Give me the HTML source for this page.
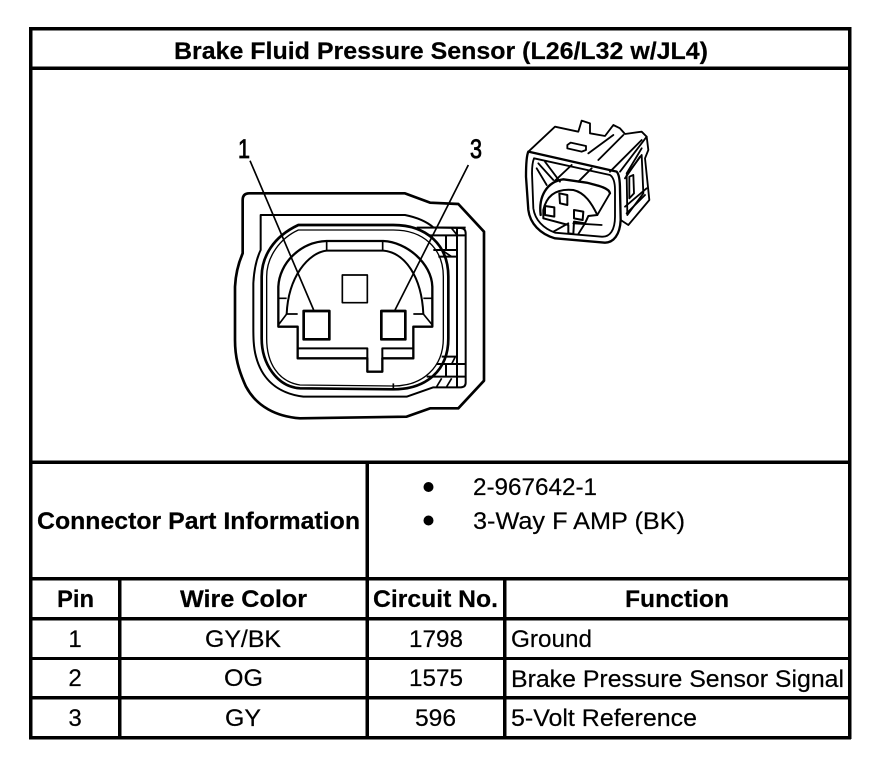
<!DOCTYPE html>
<html><head><meta charset="utf-8"><title>Brake Fluid Pressure Sensor</title>
<style>
html,body{margin:0;padding:0;background:#fff}
svg{display:block}
text{font-family:"Liberation Sans",Arial,sans-serif;font-size:24px;fill:#000;stroke:#000;stroke-width:.2px}
.b{font-weight:bold}
</style></head><body>
<svg width="896" height="772" viewBox="0 0 896 772" xmlns="http://www.w3.org/2000/svg">
<rect width="896" height="772" fill="#fff"/>
<!-- table lines -->
<g fill="#000">
<rect x="29" y="27" width="822" height="3.5"/>
<rect x="29" y="736" width="822" height="3.5"/>
<rect x="29" y="27" width="3.5" height="712"/>
<rect x="848" y="27" width="3.5" height="712"/>
<rect x="29" y="66.5" width="822" height="3.5"/>
<rect x="29" y="460.5" width="822" height="3.5"/>
<rect x="29" y="577" width="822" height="3.5"/>
<rect x="29" y="617" width="822" height="3.5"/>
<rect x="29" y="657" width="822" height="3"/>
<rect x="29" y="696" width="822" height="3.5"/>
<rect x="118" y="577" width="3.5" height="160"/>
<rect x="365.5" y="460.5" width="3.5" height="276"/>
<rect x="503" y="577" width="3.5" height="160"/>
<circle cx="428.5" cy="487" r="5"/>
<circle cx="428.5" cy="520.5" r="5"/>
</g>
<!-- text -->
<text class="b" x="174" y="59" textLength="534" lengthAdjust="spacingAndGlyphs">Brake Fluid Pressure Sensor (L26/L32 w/JL4)</text>
<text class="b" x="37" y="529" textLength="323" lengthAdjust="spacingAndGlyphs">Connector Part Information</text>
<text x="473" y="495" textLength="124" lengthAdjust="spacingAndGlyphs">2-967642-1</text>
<text x="473" y="529" textLength="212" lengthAdjust="spacingAndGlyphs">3-Way F AMP (BK)</text>
<text class="b" x="57" y="607" textLength="37" lengthAdjust="spacingAndGlyphs">Pin</text>
<text class="b" x="180" y="607" textLength="127" lengthAdjust="spacingAndGlyphs">Wire Color</text>
<text class="b" x="373" y="607" textLength="125" lengthAdjust="spacingAndGlyphs">Circuit No.</text>
<text class="b" x="625" y="607" textLength="104" lengthAdjust="spacingAndGlyphs">Function</text>
<text x="75" y="647" text-anchor="middle">1</text>
<text x="75" y="686" text-anchor="middle">2</text>
<text x="75" y="726" text-anchor="middle">3</text>
<text x="205" y="647" textLength="76" lengthAdjust="spacingAndGlyphs">GY/BK</text>
<text x="224" y="686" textLength="39" lengthAdjust="spacingAndGlyphs">OG</text>
<text x="225" y="726" textLength="36" lengthAdjust="spacingAndGlyphs">GY</text>
<text x="409" y="647" textLength="54" lengthAdjust="spacingAndGlyphs">1798</text>
<text x="409" y="686" textLength="54" lengthAdjust="spacingAndGlyphs">1575</text>
<text x="415" y="726" textLength="41" lengthAdjust="spacingAndGlyphs">596</text>
<text x="511" y="647" textLength="81" lengthAdjust="spacingAndGlyphs">Ground</text>
<text x="511" y="687" textLength="333" lengthAdjust="spacingAndGlyphs">Brake Pressure Sensor Signal</text>
<text x="511" y="726" textLength="186" lengthAdjust="spacingAndGlyphs">5-Volt Reference</text>
<!-- main connector -->
<g transform="translate(220,130) scale(0.33333)" fill="none" stroke="#000" stroke-linejoin="round">
<path stroke-width="8" d="M68,370 L68,210 Q68,190 88,190 L555,190 L630,218 L715,222 L792,305 L792,752 L715,835 L630,835 L560,860 L240,865 C170,860 110,830 78,770 C55,720 45,680 45,630 L45,470 C47,430 55,400 68,370Z"/>
<path stroke-width="6" d="M122,360 L122,255 L555,255 C590,262 620,275 640,292 L722,294 Q737,295 737,310 L737,758 Q737,772 722,772 L640,772 L560,800 L250,800 C170,790 125,745 108,680 C100,650 100,620 100,590 L100,460 C102,420 110,385 122,360Z"/>
<path stroke-width="8" d="M235,285 L520,285 C620,285 685,345 685,440 L685,625 C685,720 620,778 520,778 L240,775 C170,770 125,700 125,625 L125,440 C125,380 160,320 235,285Z" />
<path stroke-width="4" d="M235,300 L520,300 C610,300 670,355 670,440 L670,625 C670,710 610,768 520,768 L240,765 C175,755 140,700 140,625 L140,440 C140,380 180,325 235,300Z"/>
<!-- plug -->
<path stroke-width="7" d="M175,590 L175,470 C178,400 240,336 320,333 L490,333 C560,336 635,400 637,470 L637,590 L580,590 L580,685 L487,685 L487,725 L442,725 L442,685 L233,685 L233,590 Z"/>
<path stroke-width="6" d="M200,552 C205,440 265,368 320,362 L490,362 C555,368 605,440 610,552"/>
<path stroke-width="5" d="M320,333V362M488,333V362M175,505H200M610,505H637M175,585L200,552H233M637,585L610,552H580"/>
<path stroke-width="6" d="M233,655H442V685M487,685V655H580"/>
<rect x="251" y="543" width="77" height="85" stroke-width="8"/>
<rect x="484" y="543" width="72" height="85" stroke-width="8"/>
<rect x="367" y="435" width="75" height="83" stroke-width="5"/>
<!-- side grid -->
<path stroke-width="6" d="M590,293H737M625,316H737M640,360H711M655,380H711M665,680H711M650,702H737M620,740H737M678,316V360M711,293V770M678,702V740"/>
<path stroke-width="5" d="M695,295L712,316M668,362L695,380M705,682L695,702M665,745L650,770M695,745L680,770M520,760V778"/>
<!-- leaders -->
<path stroke-width="5" d="M90,92L281,540M745,105L525,540"/>
</g>
<g>
<text transform="translate(238,158) scale(0.8,1)" style="font-size:27px;stroke-width:.8px">1</text>
<text transform="translate(470,158) scale(0.8,1)" style="font-size:27px;stroke-width:.8px">3</text>
</g>
<!-- small connector -->
<g transform="translate(510,110) scale(0.33333)" fill="none" stroke="#000" stroke-width="5.5" stroke-linejoin="round" stroke-linecap="round">
<path stroke-width="7" d="M55,125 L320,185 Q330,195 330,240 L332,330 C330,375 310,398 285,398 L135,385 C90,372 60,340 55,300 L48,200 Q48,140 55,125Z"/>
<path d="M72,145 L300,195 Q315,205 315,240 L315,320 C315,360 300,382 275,380 L135,368 C100,355 75,330 70,295 L66,190 Q66,160 72,145Z"/>
<path d="M55,125 L135,50 L205,65 L215,32 L240,40 L240,70 L285,78 L310,45 L330,55 L345,72 L395,65 L410,80 L330,185"/>
<path d="M410,80 L415,120 L405,145 L418,270 L355,345 L332,330"/>
<path d="M235,130 L310,75M265,150 L340,75M300,185 L395,90"/>
<path d="M172,105 L182,98 L228,108 L228,120 L215,125 L172,115Z"/>
<path d="M350,195 L395,135 L400,250 L352,315Z M358,200 L370,195 L372,250 L358,265Z"/>
<path d="M350,190L395,115M345,205L390,140M345,290L410,235M350,310L405,255"/>
<path d="M85,160 L130,210 M105,155 L150,215 M185,165 L135,212 M245,175 L205,215 M80,175 L110,225"/>
<path stroke-width="7" d="M92,315 C85,260 110,215 160,208 L230,218 C270,228 298,235 300,250"/>
<path stroke-width="6" d="M100,300 C110,255 140,235 190,240 C225,248 245,280 262,315 L235,318 L225,340 L192,335 L190,372 L175,370 L175,345 L100,325 Z"/>
<path d="M190,340L275,345M130,365L175,340M205,372L225,340M300,250L262,315"/>
<path stroke-width="6" d="M148,250 L172,255 L172,285 L150,280Z M105,288 L133,292 L133,320 L105,315Z M192,300 L220,305 L218,330 L192,325Z"/>
</g>
</svg>
</body></html>
